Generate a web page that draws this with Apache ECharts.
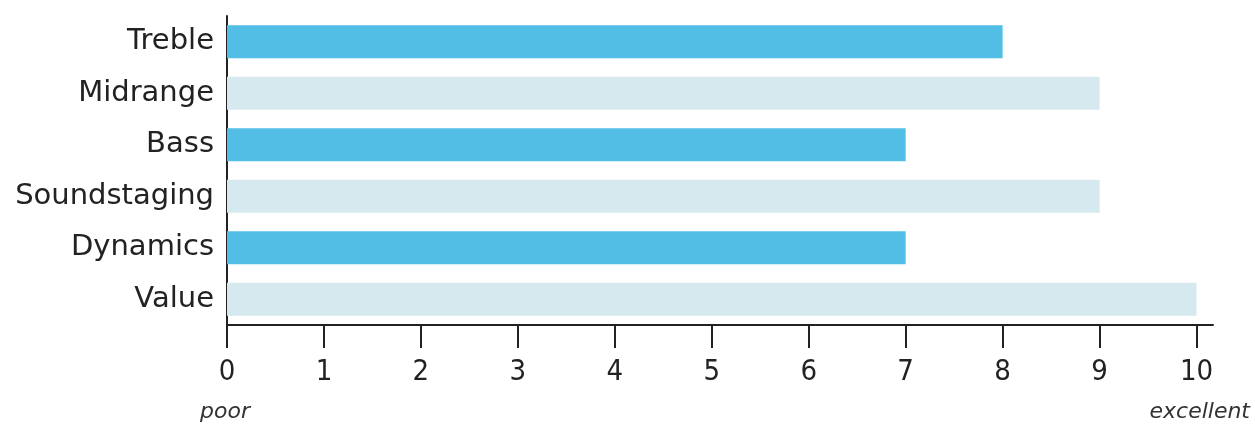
<!DOCTYPE html>
<html>
<head>
<meta charset="utf-8">
<script src="https://cdn.jsdelivr.net/npm/echarts@6/dist/echarts.min.js"></script>
<style>
html,body{margin:0;padding:0;background:#fff;}
#chart{width:1255px;height:425px;}
</style>
</head>
<body>
<div id="chart"></div>
<script>
var categories = ['Treble', 'Midrange', 'Bass', 'Soundstaging', 'Dynamics', 'Value'];
var scores = [8, 9, 7, 9, 7, 10];
var tickLabels = [0, 1, 2, 3, 4, 5, 6, 7, 8, 9, 10];
var scaleEnds = ['poor', 'excellent'];

var chart = echarts.init(document.getElementById('chart'));
var colors = ['#52bee6', '#d6e9ee'];
chart.setOption({
  animation: false,
  grid: { left: 227, right: 42, top: 16, bottom: 100, containLabel: false },
  xAxis: {
    type: 'value',
    min: 0,
    max: 10.17,
    interval: 1,
    splitLine: { show: false },
    axisLine: { show: true, lineStyle: { color: '#222', width: 2 } },
    axisTick: { show: true, length: 23, lineStyle: { color: '#222', width: 2 }, customValues: tickLabels },
    axisLabel: {
      customValues: tickLabels,
      margin: 33,
      color: '#222',
      fontSize: 29,
      fontFamily: 'Liberation Sans Narrow, DejaVu Sans Condensed, sans-serif',
      fontWeight: 'normal'
    }
  },
  yAxis: {
    type: 'category',
    data: categories,
    inverse: true,
    axisLine: { show: true, lineStyle: { color: '#222', width: 2 } },
    axisTick: { show: false },
    axisLabel: {
      margin: 13,
      color: '#222',
      fontSize: 29,
      fontFamily: 'DejaVu Sans, sans-serif'
    }
  },
  series: [{
    type: 'bar',
    data: scores,
    barWidth: 33,
    itemStyle: {
      color: function (p) { return colors[p.dataIndex % 2]; }
    }
  }],
  graphic: [
    { type: 'text', left: 200, top: 401, style: { text: scaleEnds[0], fontSize: 22, fontStyle: 'italic', fill: '#333', fontFamily: 'DejaVu Sans, sans-serif' } },
    { type: 'text', right: 5, top: 401, style: { text: scaleEnds[1], fontSize: 22, fontStyle: 'italic', fill: '#333', fontFamily: 'DejaVu Sans, sans-serif' } }
  ]
});
</script>
</body>
</html>
